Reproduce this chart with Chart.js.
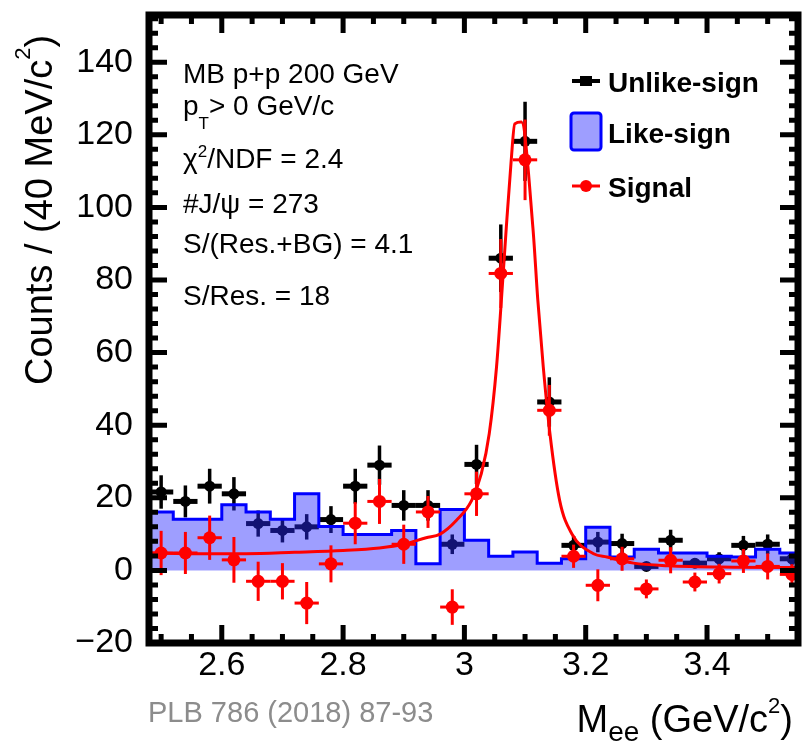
<!DOCTYPE html>
<html>
<head>
<meta charset="utf-8">
<script src="https://cdn.jsdelivr.net/npm/chart.js@4.4.0/dist/chart.umd.min.js"></script>
<style>
  html, body { margin: 0; padding: 0; background: #fff; }
</style>
</head>
<body>
<canvas id="chart" width="805" height="745"></canvas>
<script>
// bin centres, 40 MeV wide
const massBins = [2.50, 2.54, 2.58, 2.62, 2.66, 2.70, 2.74, 2.78, 2.82, 2.86, 2.90, 2.94, 2.98,
  3.02, 3.06, 3.10, 3.14, 3.18, 3.22, 3.26, 3.30, 3.34, 3.38, 3.42, 3.46, 3.50, 3.54];
const unlikeSign = [21.6, 19.0, 23.2, 21.1, 12.9, 11.0, 12.0, 14.0, 23.2, 29.0, 17.9, 17.9, 7.2,
  29.2, 86.0, 118.2, 46.4, 6.9, 7.8, 7.4, 1.1, 8.3, 2.0, 3.2, 6.9, 7.2, 3.2];
const unlikeErr = [4.6, 4.4, 4.8, 4.6, 3.6, 3.3, 3.5, 3.7, 4.8, 5.4, 4.2, 4.2, 2.7,
  5.4, 9.3, 10.9, 6.8, 2.6, 2.8, 2.7, 1.0, 2.9, 1.4, 1.8, 2.6, 2.7, 1.8];
const likeSign = [16.1, 14.1, 14.1, 18.1, 16.1, 14.1, 21.1, 12.1, 9.9, 9.9, 11.0, 1.8, 16.8,
  8.3, 3.9, 5.1, 2.0, 3.2, 11.9, 3.7, 5.8, 4.8, 4.8, 3.9, 3.7, 5.8, 4.8];
const signal = [4.8, 4.8, 9.0, 2.9, -3.0, -3.0, -9.0, 1.8, 13.0, 19.0, 7.2, 16.1, -10.1,
  21.1, 81.8, 113.1, 44.1, 3.9, -4.1, 3.2, -5.1, 2.8, -3.2, -0.9, 2.6, 1.1, -1.1];
const signalErr = [6.1, 5.8, 6.1, 6.3, 5.4, 5.0, 5.8, 5.1, 5.8, 6.2, 5.4, 4.4, 4.9,
  6.1, 9.5, 11.1, 7.0, 3.2, 4.4, 3.3, 2.6, 3.6, 2.6, 2.7, 3.3, 3.6, 2.8];

// fit curve
const fitMass = [2.48, 2.56, 2.64, 2.72, 2.80, 2.86, 2.90, 2.937, 2.960, 2.987, 3.012, 3.028, 3.041,
  3.053, 3.061, 3.069, 3.077, 3.083, 3.094, 3.113, 3.121, 3.130, 3.141, 3.157, 3.177, 3.213,
  3.235, 3.279, 3.335, 3.444, 3.55];
const fitCounts = [4.8, 4.6, 4.6, 5.0, 5.5, 6.2, 7.2, 9.0, 10.0, 13.8, 19.3, 26.7, 37.7,
  56.1, 74.5, 94.3, 112.6, 123.0, 123.5, 94.3, 74.5, 56.1, 37.7, 19.3, 10.1, 4.6,
  3.7, 2.0, 1.3, 0.9, 0.8];

const xTickLabels = [2.6, 2.8, 3.0, 3.2, 3.4];
const yTickLabels = [-20, 0, 20, 40, 60, 80, 100, 120, 140];

const halfBin = 0.02;
const FONT = "'Liberation Sans', Arial, Helvetica, sans-serif";
const likeFill = "rgba(40,40,255,0.45)";

Chart.defaults.font.family = FONT;

const points = (ys) => massBins.map((m, i) => ({ x: m, y: ys[i] }));

// like-sign histogram as steps from the left bin edges
const likeSteps = likeSign.map((v, i) => ({ x: massBins[i] - halfBin, y: v }));
likeSteps.push({ x: massBins[massBins.length - 1] + halfBin, y: likeSign[likeSign.length - 1] });

const fitLine = fitMass.map((m, i) => ({ x: m, y: fitCounts[i] }));

const errorBars = {
  id: "errorBars",
  beforeDatasetDraw(chart, args) {
    const ds = chart.data.datasets[args.index];
    if (!ds.errors) return;
    const xs = chart.scales.x, ys = chart.scales.y, area = chart.chartArea;
    const ctx = chart.ctx;
    ctx.save();
    ctx.beginPath();
    ctx.rect(area.left, area.top, area.right - area.left, area.bottom - area.top);
    ctx.clip();
    ctx.strokeStyle = ds.borderColor;
    ctx.lineCap = "butt";
    ds.data.forEach((p, i) => {
      const px = xs.getPixelForValue(p.x);
      const py = ys.getPixelForValue(p.y);
      ctx.lineWidth = ds.errV;
      ctx.beginPath();
      ctx.moveTo(px, ys.getPixelForValue(p.y + ds.errors[i]));
      ctx.lineTo(px, ys.getPixelForValue(p.y - ds.errors[i]));
      ctx.stroke();
      ctx.lineWidth = ds.errH;
      ctx.beginPath();
      ctx.moveTo(xs.getPixelForValue(p.x - halfBin), py);
      ctx.lineTo(xs.getPixelForValue(p.x + halfBin), py);
      ctx.stroke();
    });
    ctx.restore();
  }
};

// draws a run of text pieces with sub/superscripts, returns width
const drawRuns = (ctx, x, y, pieces, measureOnly) => {
  let cx = x;
  pieces.forEach(p => {
    ctx.font = (p.bold ? "bold " : "") + p.s + "px " + FONT;
    if (!measureOnly) ctx.fillText(p.t, cx, y + (p.dy || 0));
    cx += ctx.measureText(p.t).width;
  });
  return cx - x;
};

const decorations = {
  id: "decorations",
  afterDraw(chart) {
    const ctx = chart.ctx;
    const a = chart.chartArea;
    const xs = chart.scales.x, ys = chart.scales.y;

    ctx.save();
    ctx.strokeStyle = "#000";
    ctx.lineCap = "butt";

    // inward ticks on all four sides
    const majLen = 18, minLen = 9;
    ctx.lineWidth = 5;
    const tickX = (v, len) => {
      const px = xs.getPixelForValue(v);
      ctx.beginPath();
      ctx.moveTo(px, a.bottom); ctx.lineTo(px, a.bottom - len);
      ctx.moveTo(px, a.top); ctx.lineTo(px, a.top + len);
      ctx.stroke();
    };
    const tickY = (v, len) => {
      const py = ys.getPixelForValue(v);
      ctx.beginPath();
      ctx.moveTo(a.left, py); ctx.lineTo(a.left + len, py);
      ctx.moveTo(a.right, py); ctx.lineTo(a.right - len, py);
      ctx.stroke();
    };
    for (let k = Math.ceil(xs.min / 0.05 - 1e-6); k * 0.05 <= xs.max + 1e-6; k++) {
      const v = k * 0.05;
      const major = xTickLabels.some(t => Math.abs(t - v) < 1e-6);
      tickX(v, major ? majLen : minLen);
    }
    for (let k = Math.ceil(ys.min / 4); k * 4 <= ys.max; k++) {
      const v = k * 4;
      tickY(v, yTickLabels.includes(v) ? majLen : minLen);
    }

    // frame
    ctx.lineWidth = 7;
    ctx.strokeRect(a.left, a.top, a.right - a.left, a.bottom - a.top);

    ctx.fillStyle = "#000";
    ctx.textAlign = "left";
    ctx.textBaseline = "alphabetic";

    // info text
    const s = 28;
    drawRuns(ctx, 183, 83, [{ t: "MB p+p 200 GeV", s }]);
    drawRuns(ctx, 183, 115, [{ t: "p", s }, { t: "T", s: 17, dy: 14 }, { t: "> 0 GeV/c", s }]);
    drawRuns(ctx, 183, 168, [{ t: "\u03c7", s }, { t: "2", s: 17, dy: -11 }, { t: "/NDF = 2.4", s }]);
    drawRuns(ctx, 183, 213, [{ t: "#J/\u03c8 = 273", s }]);
    drawRuns(ctx, 183, 253, [{ t: "S/(Res.+BG) = 4.1", s }]);
    drawRuns(ctx, 183, 305, [{ t: "S/Res. = 18", s }]);

    // legend
    ctx.lineWidth = 4;
    ctx.beginPath(); ctx.moveTo(572, 81); ctx.lineTo(600, 81); ctx.stroke();
    ctx.fillRect(580, 76, 12, 10);
    drawRuns(ctx, 608, 92, [{ t: "Unlike-sign", s: 28, bold: true }]);

    ctx.fillStyle = likeFill;
    ctx.strokeStyle = "#0000ff";
    ctx.lineWidth = 3;
    ctx.beginPath();
    ctx.roundRect(571, 113, 30, 37, 3);
    ctx.fill(); ctx.stroke();
    ctx.fillStyle = "#000";
    drawRuns(ctx, 608, 143, [{ t: "Like-sign", s: 28, bold: true }]);

    ctx.strokeStyle = "#ff0000";
    ctx.fillStyle = "#ff0000";
    ctx.lineWidth = 3;
    ctx.beginPath(); ctx.moveTo(572, 186); ctx.lineTo(600, 186); ctx.stroke();
    ctx.beginPath(); ctx.arc(586, 186, 6, 0, Math.PI * 2); ctx.fill();
    ctx.fillStyle = "#000";
    drawRuns(ctx, 608, 197, [{ t: "Signal", s: 28, bold: true }]);

    // axis titles
    ctx.save();
    ctx.translate(52, 385);
    ctx.rotate(-Math.PI / 2);
    drawRuns(ctx, 0, 0, [{ t: "Counts / (40 MeV/c", s: 38 }, { t: "2", s: 22, dy: -22 }, { t: ")", s: 38 }]);
    ctx.restore();

    const xTitle = [{ t: "M", s: 38 }, { t: "ee", s: 28, dy: 9 }, { t: " (GeV/c", s: 38 },
      { t: "2", s: 22, dy: -19 }, { t: ")", s: 38 }];
    const w = drawRuns(ctx, 0, 0, xTitle, true);
    drawRuns(ctx, 793 - w, 732, xTitle);

    ctx.fillStyle = "#8c8c8c";
    drawRuns(ctx, 148, 722, [{ t: "PLB 786 (2018) 87-93", s: 29 }]);
    ctx.restore();
  }
};

const chart = new Chart(document.getElementById("chart").getContext("2d"), {
  type: "scatter",
  data: {
    datasets: [
      {
        label: "Unlike-sign",
        data: points(unlikeSign),
        errors: unlikeErr, errV: 3.5, errH: 5,
        borderColor: "#000", backgroundColor: "#000",
        pointRadius: 5.5, pointBorderWidth: 0,
        order: 4
      },
      {
        label: "Like-sign",
        data: likeSteps,
        showLine: true, stepped: true,
        borderColor: "#0000ff", borderWidth: 3,
        backgroundColor: likeFill, fill: "origin",
        pointRadius: 0,
        order: 3
      },
      {
        label: "Fit",
        data: fitLine,
        showLine: true, cubicInterpolationMode: "monotone",
        borderColor: "#ff0000", borderWidth: 3, fill: false,
        pointRadius: 0,
        order: 2
      },
      {
        label: "Signal",
        data: points(signal),
        errors: signalErr, errV: 3, errH: 3,
        borderColor: "#ff0000", backgroundColor: "#ff0000",
        pointRadius: 6.5, pointBorderWidth: 0,
        order: 1
      }
    ]
  },
  options: {
    responsive: false,
    animation: false,
    devicePixelRatio: 1,
    layout: { padding: { top: 15, right: 7, left: 0, bottom: 0 } },
    plugins: { legend: { display: false }, tooltip: { enabled: false } },
    scales: {
      x: {
        type: "linear", min: 2.48, max: 3.55,
        afterFit: (s) => { s.height = 102; s.paddingLeft = 0; s.paddingRight = 0; },
        afterBuildTicks: (s) => { s.ticks = xTickLabels.map(v => ({ value: v })); },
        ticks: {
          font: { size: 34 }, color: "#000", padding: 2, maxRotation: 0,
          callback: (v) => String(Number(v.toFixed(1)))
        },
        grid: { display: false, drawTicks: false },
        border: { display: false }
      },
      y: {
        min: -20, max: 153,
        afterFit: (s) => { s.width = 149; s.paddingTop = 0; s.paddingBottom = 0; },
        afterBuildTicks: (s) => { s.ticks = yTickLabels.map(v => ({ value: v })); },
        ticks: {
          font: { size: 34 }, color: "#000", padding: 16,
          callback: (v) => v < 0 ? "\u2212" + (-v) : String(v)
        },
        grid: { display: false, drawTicks: false },
        border: { display: false }
      }
    }
  },
  plugins: [errorBars, decorations]
});
</script>
</body>
</html>
